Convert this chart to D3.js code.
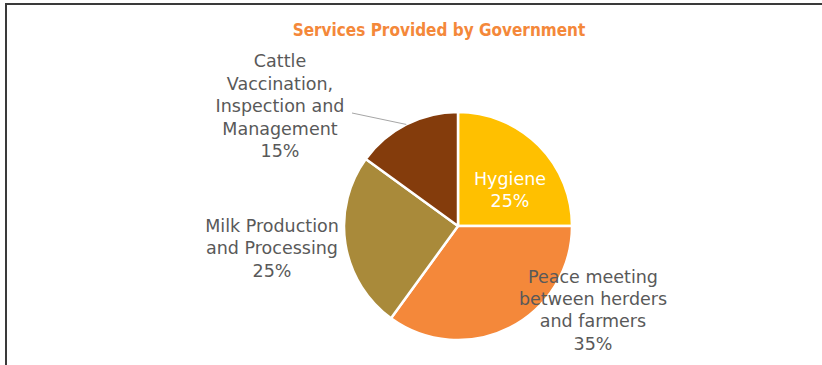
<!DOCTYPE html>
<html>
<head>
<meta charset="utf-8">
<script src="https://cdn.jsdelivr.net/npm/d3@7"></script>
<style>
  html, body { margin: 0; padding: 0; background: #fff; }
  svg { display: block; }
</style>
</head>
<body>
<svg id="chart" width="822" height="365"></svg>
<script>
// Services provided by government, share of responses
const categories = [
  "Hygiene",
  "Peace meeting between herders and farmers",
  "Milk Production and Processing",
  "Cattle Vaccination, Inspection and Management"
];
const values = [25, 35, 25, 15];
const colors = ["#FFC000", "#F4883A", "#A98A3A", "#843C0C"];
// label text broken into lines as they appear beside each slice
const labelLines = [
  ["Hygiene"],
  ["Peace meeting", "between herders", "and farmers"],
  ["Milk Production", "and Processing"],
  ["Cattle", "Vaccination,", "Inspection and", "Management"]
];
const title = "Services Provided by Government";

const svg = d3.select("#chart");
const W = 822, H = 365;
const cx = 458, cy = 226, radius = 114;
const fontFamily = "'DejaVu Sans', sans-serif";

// chart frame (left and top edges visible)
svg.append("path")
  .attr("d", `M6,${H + 5} L6,4 L${W + 5},4`)
  .attr("fill", "none")
  .attr("stroke", "#3a3a3a")
  .attr("stroke-width", 2);

// title
svg.append("text")
  .attr("x", 439)
  .attr("y", 36)
  .attr("text-anchor", "middle")
  .attr("font-family", "'DejaVu Sans Condensed', 'DejaVu Sans', sans-serif")
  .attr("font-weight", "bold")
  .attr("font-size", 17)
  .attr("fill", "#F4883A")
  .text(title);

const pie = d3.pie().sort(null).value(d => d)(values);
const arc = d3.arc().innerRadius(0).outerRadius(radius);

const g = svg.append("g").attr("transform", `translate(${cx},${cy})`);

g.selectAll("path.slice")
  .data(pie)
  .join("path")
  .attr("class", "slice")
  .attr("d", arc)
  .attr("fill", (d, i) => colors[i])
  .attr("stroke", "#fff")
  .attr("stroke-width", 2.5)
  .attr("stroke-linejoin", "round");

// label anchors relative to the pie centre
const labelOffsets = [
  { dx: 52, dy: -36, fill: "#ffffff" },
  { dx: 135, dy: 84, fill: "#595959" },
  { dx: -186, dy: 22, fill: "#595959" },
  { dx: -178, dy: -120, fill: "#595959" }
];
const lineH = 22.4;
const fmt = v => `${v}%`;

pie.forEach((d, i) => {
  const lines = labelLines[i].concat([fmt(values[i])]);
  const o = labelOffsets[i];
  const top = o.dy - (lines.length - 1) * lineH / 2;
  const t = g.append("text")
    .attr("text-anchor", "middle")
    .attr("font-family", fontFamily)
    .attr("font-size", 17.5)
    .attr("fill", o.fill);
  lines.forEach((ln, k) => {
    t.append("tspan")
      .attr("x", o.dx)
      .attr("y", top + k * lineH)
      .attr("dy", "0.35em")
      .text(ln);
  });
});

// leader line from the small slice label to the slice edge
const cattle = pie[3];
const mid = (cattle.startAngle + cattle.endAngle) / 2;
const edge = [Math.sin(mid) * radius, -Math.cos(mid) * radius];
g.append("path")
  .attr("d", d3.line()([[-106, -113], edge]))
  .attr("fill", "none")
  .attr("stroke", "#A6A6A6")
  .attr("stroke-width", 1);
</script>
</body>
</html>
